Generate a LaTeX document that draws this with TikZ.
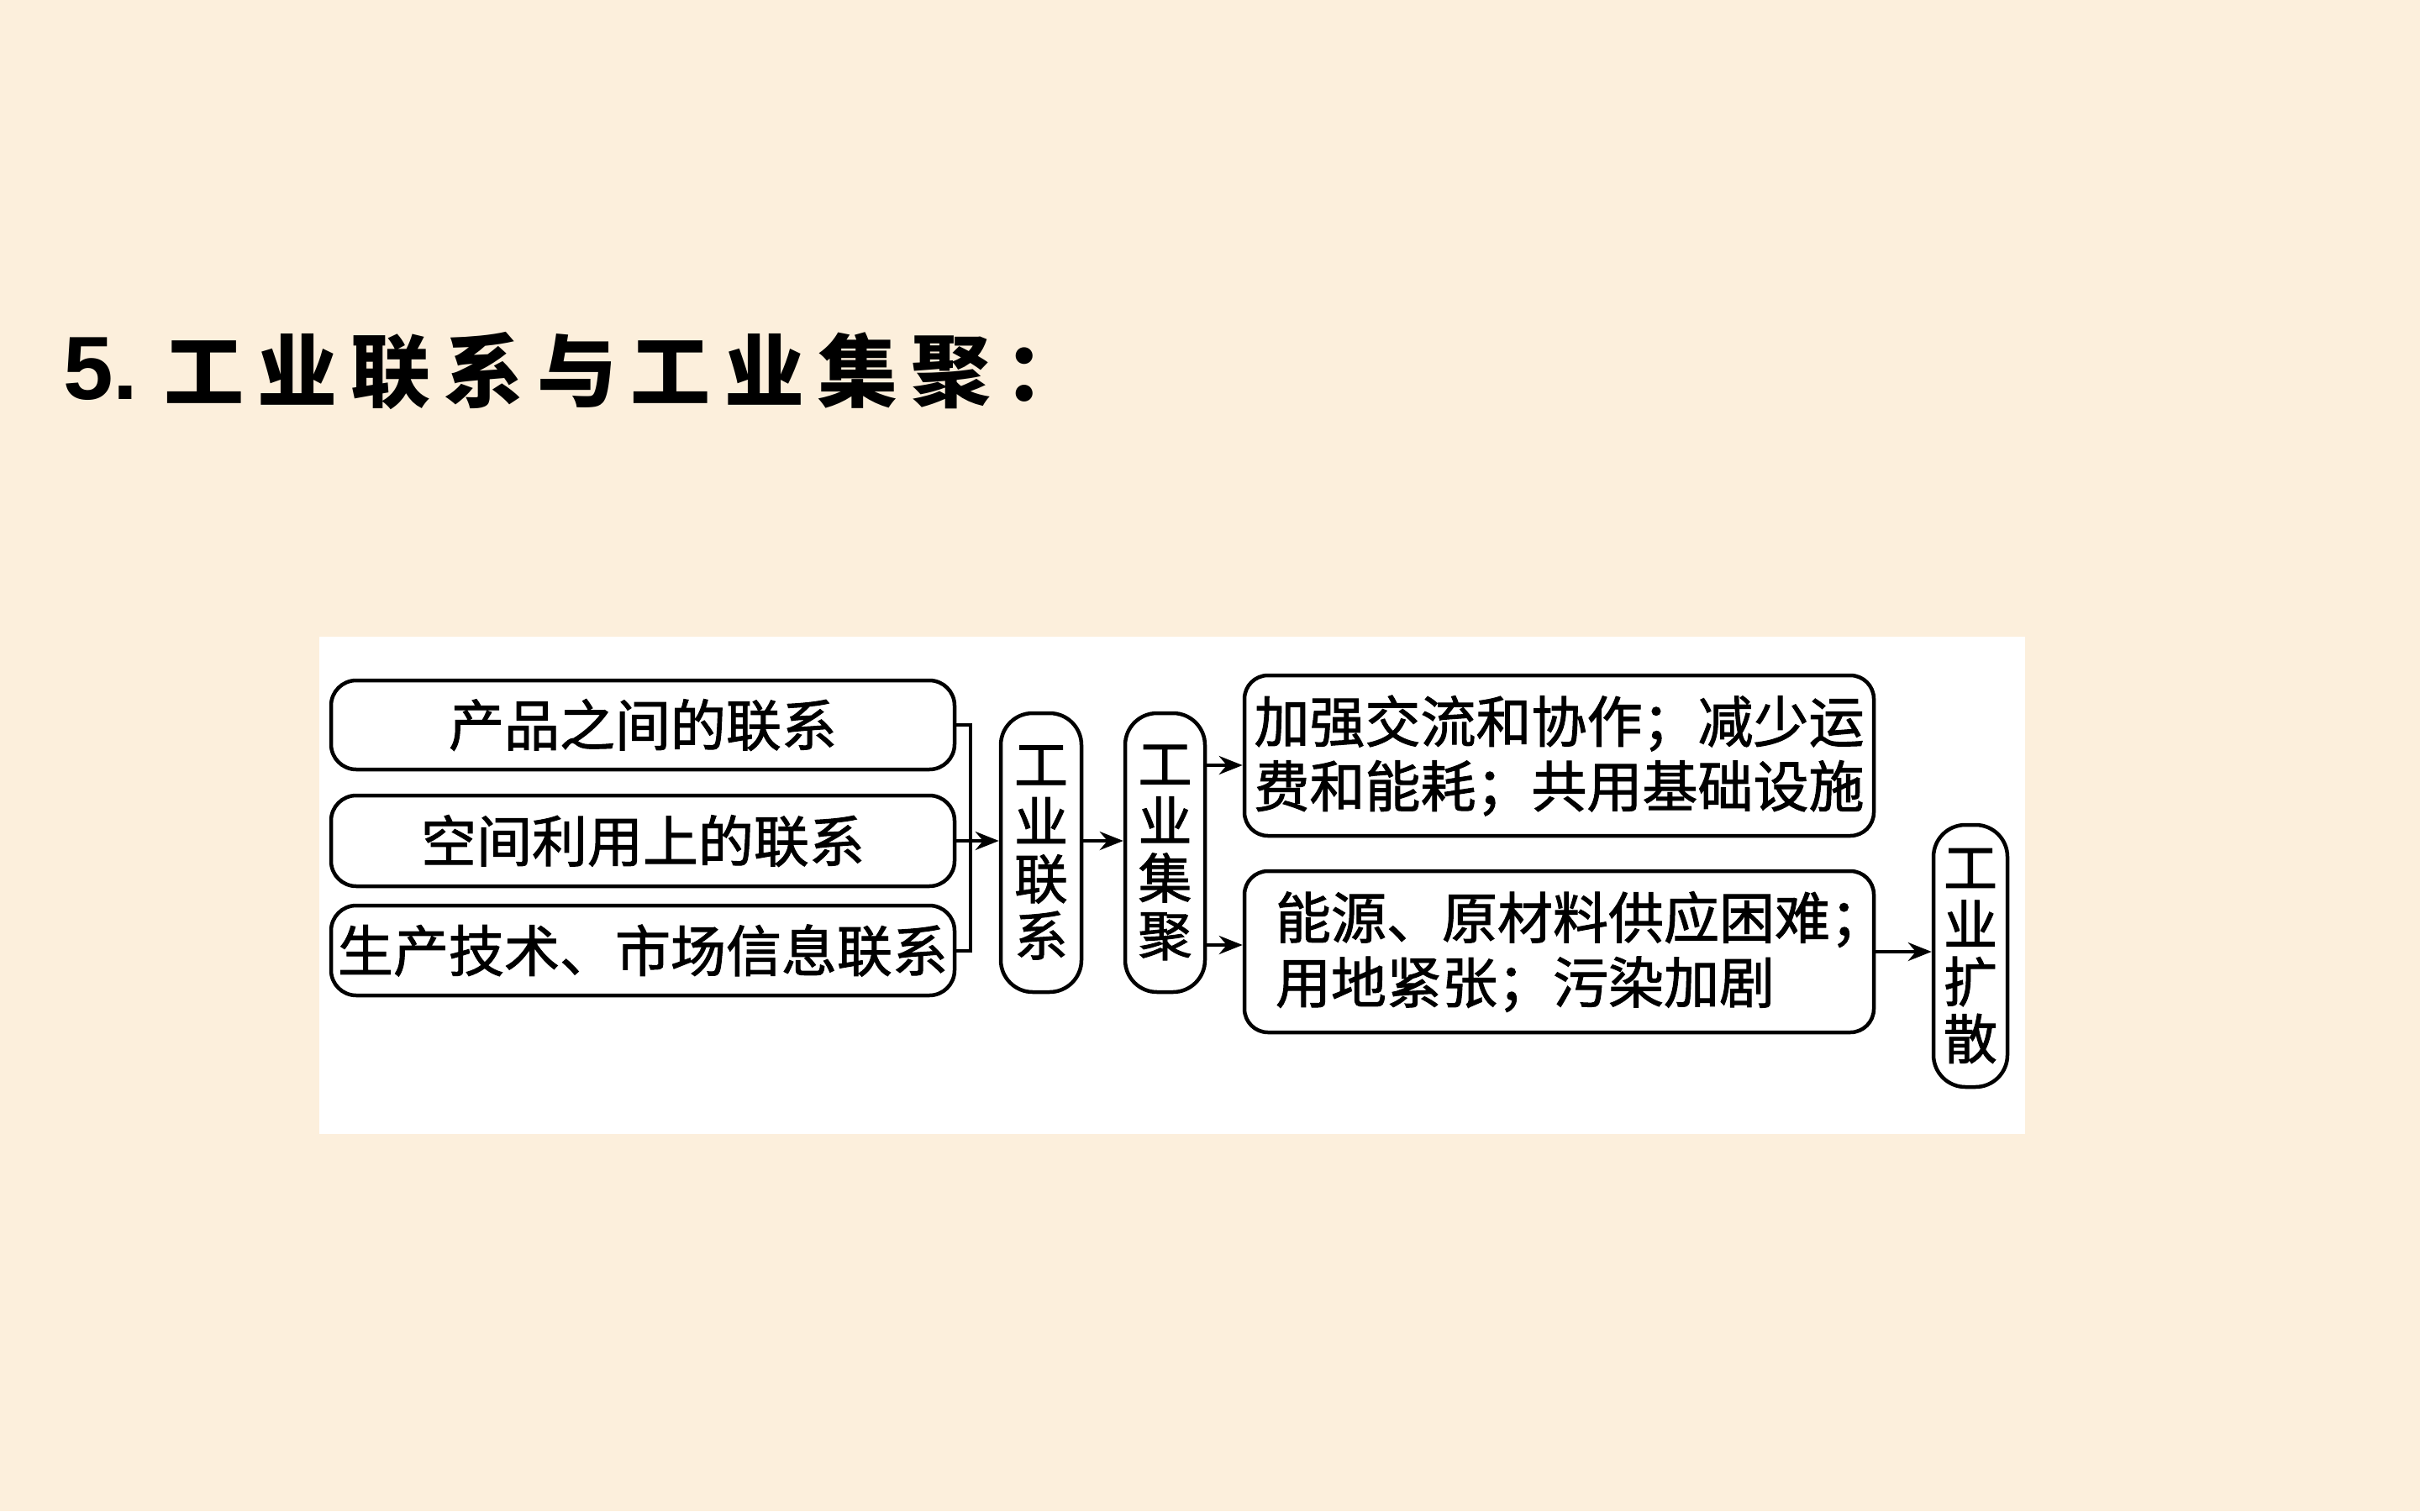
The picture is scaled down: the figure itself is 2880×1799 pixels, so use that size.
\documentclass[tikz,border=0pt]{standalone}
\usepackage{fontspec}
\setmainfont{Liberation Sans}
\newfontfamily\cjk{Noto Sans CJK SC}[FakeBold=1.5]
\newfontfamily\cjkt{Noto Sans CJK SC}[LetterSpace=17]
\usetikzlibrary{arrows.meta}
\definecolor{bgc}{RGB}{252,239,220}
\hfuzz=200pt
\tikzset{
  box/.style={draw, line width=4.5pt, rounded corners=30pt, inner sep=0pt,
    font=\cjk\fontsize{66}{77}\selectfont},
  vbox/.style={box, rounded corners=38pt, align=center,
    font=\cjk\fontsize{64}{68}\selectfont},
  rbox/.style={box, rounded corners=28pt, align=left},
  arr/.style={line width=4pt, -{Stealth[length=28pt,width=22pt]}},
  link/.style={line width=4pt}
}
\begin{document}
\begin{tikzpicture}[x=1pt,y=-1pt]
\fill[bgc] (0,0) rectangle (2880,1799);
\useasboundingbox (0,0) rectangle (2880,1799);
\fill[white] (380,758) rectangle (2410,1350);

% title
\node[anchor=base west, inner sep=0pt] (t5) at (75,475)
  {\fontsize{107}{107}\selectfont\bfseries 5.};
\node[anchor=base west, inner sep=0pt] (tt) at (195,477)
  {\cjkt\bfseries\fontsize{95}{95}\selectfont 工业联系与工业集聚：};

% left boxes
\node[box, minimum width=742pt, minimum height=106pt] (b1) at (765,863) {产品之间的联系};
\node[box, minimum width=742pt, minimum height=108pt] (b2) at (765,1001) {空间利用上的联系};
\node[box, minimum width=742pt, minimum height=107pt] (b3) at (765,1131.5) {生产技术、市场信息联系};

% vertical boxes
\node[vbox, minimum width=96pt, minimum height=332pt] (lx) at (1239,1015) {工\\业\\联\\系};
\node[vbox, minimum width=95pt, minimum height=332pt] (jj) at (1386.5,1015) {工\\业\\集\\聚};
\node[vbox, minimum width=88pt, minimum height=312pt] (ks) at (2345,1138) {工\\业\\扩\\散};

% right boxes
\node[rbox, minimum width=749pt, minimum height=191pt] (r1) at (1855.5,899.5)
  {加强交流和协作；减少运\\费和能耗；共用基础设施};
\node[rbox, text width=675pt, minimum width=749pt, minimum height=192pt] (r2) at (1855.5,1133)
  {能源、原材料供应困难；\\用地紧张；污染加剧};

% connectors
\coordinate (jx) at (1155,0);
\draw[link] (b1.east) -- (b1.east -| jx) -- (b3.east -| jx) -- (b3.east);
\draw[arr] (b2.east) -- (lx.west |- b2.east);
\draw[arr] (lx.east |- b2.east) -- (jj.west |- b2.east);
\coordinate (ya) at (0,911);
\coordinate (yb) at (0,1125);
\draw[arr] (jj.east |- ya) -- (r1.west |- ya);
\draw[arr] (jj.east |- yb) -- (r2.west |- yb);
\draw[arr] (r2.east) -- (ks.west |- r2.east);
\end{tikzpicture}
\end{document}
